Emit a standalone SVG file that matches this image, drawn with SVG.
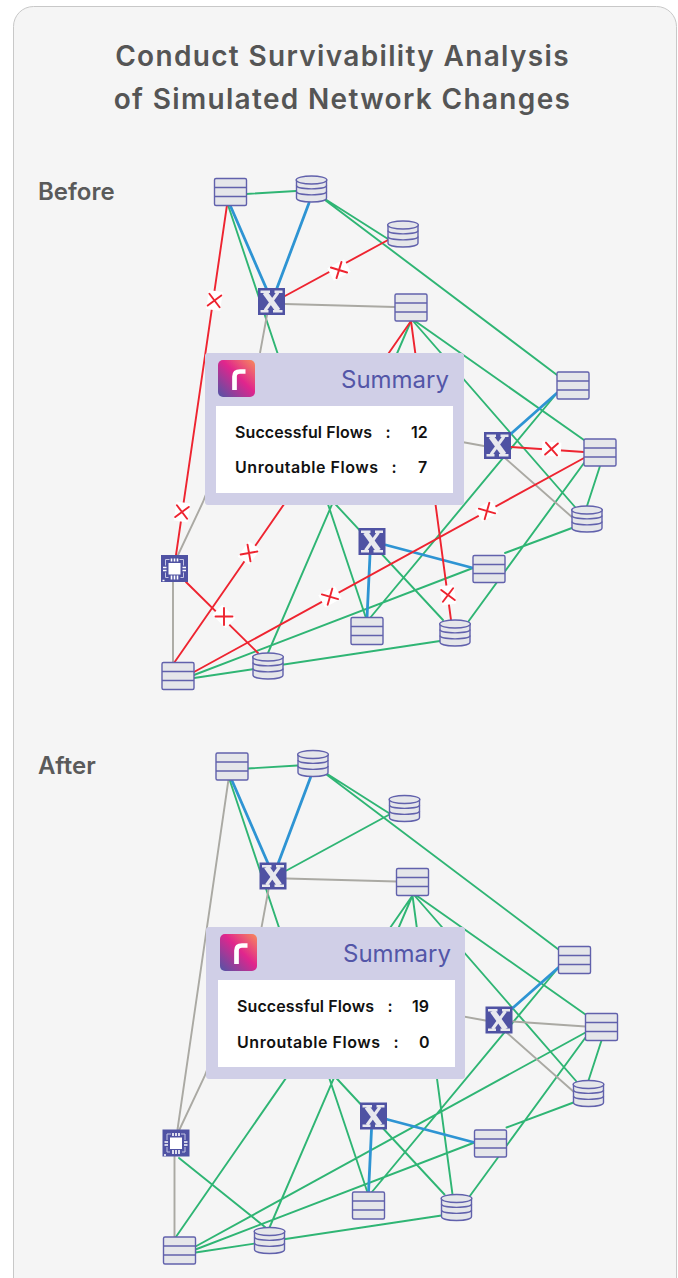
<svg xmlns="http://www.w3.org/2000/svg" width="678" height="1278" viewBox="0 0 678 1278">
<style>
text{font-family:"Inter","Lato","Liberation Sans",sans-serif}
.t{font-size:28px;font-weight:600;fill:#555;letter-spacing:1.330px}
.h{font-size:24px;font-weight:600;fill:#5a5a5a}
.s{font-size:24px;font-weight:400;fill:#5356a8;text-anchor:end}
.f{font-size:16px;font-weight:600;fill:#111}
.g,.r,.b,.a{fill:none;stroke-linecap:round}
.g{stroke:#2fb574;stroke-width:1.9}
.r{stroke:#ee2430;stroke-width:1.9}
.b{stroke:#2e94d3;stroke-width:2.800}
.a{stroke:#aaa9a3;stroke-width:1.900}
.n{fill:#e5e6ea;stroke:#6161ac;stroke-width:1.400}
</style>
<defs>
<linearGradient id="lg" x1="0" y1="1" x2="1" y2="0">
<stop offset="0" stop-color="#4f55a6"/><stop offset=".55" stop-color="#e0258d"/><stop offset="1" stop-color="#f78b5c"/>
</linearGradient>
<g id="srv"><rect class="n" x="-16" y="-13.500" width="32" height="27" rx="1.500"/><path class="n" d="M-16-4.500H16M-16 4.500H16"/></g>
<g id="db"><path class="n" d="M-15-9V9C-15 14.300 15 14.300 15 9V-9Z"/><ellipse class="n" cx="0" cy="-9" rx="15.300" ry="4"/><path class="n" d="M-15-3.500C-15 1 15 1 15-3.500M-15 2.500C-15 7 15 7 15 2.500" style="fill:none"/></g>
<g id="sw"><rect x="-13.500" y="-13.500" width="27" height="27" fill="#4f52a3"/><path fill="none" stroke="#e8e8ee" stroke-width="5.500" d="M-6.500-9L6.500 9"/><path fill="none" stroke="#e8e8ee" stroke-width="3" d="M6.500-9L-6.500 9"/><path fill="none" stroke="#e8e8ee" stroke-width="2.400" d="M-11-9.800H-1.500M3-9.800H11M-11 9.800H-3M1.500 9.800H11"/></g>
<g id="cpu"><rect x="-13.500" y="-13.500" width="27" height="27" fill="#4f52a3"/><rect x="-6" y="-5.500" width="12" height="11.500" fill="#fff"/><path fill="none" stroke="#c4c5e4" stroke-width="1" d="M-9-3V-9H-5M5-9H9V-3M-9 4V9H-6M6 9H9V4"/><path fill="none" stroke="#fff" stroke-width="1.600" d="M-3-10V-7M0-10V-7M3-10V-7M-3 7V11M0 7V11M3 7V11M-11.500-1H-8M-11.500 2H-8M8-1H11.500M8 2H11.500M-12 12H-10"/></g>
<g id="x"><rect x="-9.500" y="-7" width="19" height="14" fill="#fff"/><path class="r" d="M-6-6L6 6M-6 6L6-6"/></g>
</defs>
<rect width="678" height="1278" fill="#fff"/>
<rect x="13.500" y="6.500" width="663" height="1300" rx="20" fill="#f5f5f5" stroke="#c8c8c8" stroke-width="1"/>
<text class="t" x="342.500" y="66" text-anchor="middle">Conduct Survivability Analysis</text>
<text class="t" x="342.500" y="109" text-anchor="middle">of Simulated Network Changes</text>
<text class="h" x="38" y="200">Before</text>
<text class="h" x="38" y="774">After</text>

<g id="connectors-before">
<path class="g" d="M246 194L296 191M228 205L366 618M325 199L388 239M325 200L557 375M411 321L268 653M413 321L575 507M415 321L584 440M325 493L443 620M557 393L370 618M600 466L587 506M584 463L468 622M572 528L505 553M473 568L194 675M194 678L440 641"/>
<path class="a" d="M267 315L260 353L203 502L178 555M173 582V663M395 307L285 304M440 438L484 446M505 458L573 518"/>
<path class="b" d="M230 205L267 290M309 203L277 288M510.700 434L557 393M370 555L367 618M386 545L473 568"/>
<path class="r" d="M227 205L176 555M285 296L388 240M411 321L174 663M411 321L451 620M186 582L258 653M194 672L584 458M511 447L584 452"/>
<use href="#x" transform="translate(214.500,300.500) rotate(98)"/>
<use href="#x" transform="translate(182,512) rotate(98)"/>
<use href="#x" transform="translate(339,270) rotate(-28)"/>
<use href="#x" transform="translate(249,553) rotate(-55)"/>
<use href="#x" transform="translate(224,616.500) rotate(45)"/>
<use href="#x" transform="translate(330,596.700) rotate(-29)"/>
<use href="#x" transform="translate(487,511) rotate(-29)"/>
<use href="#x" transform="translate(551.500,449) rotate(4)"/>
<use href="#x" transform="translate(448,595) rotate(82)"/>
</g>
<g id="before-s1" transform="translate(230.500,192)"><use href="#srv"/></g>
<g id="before-d1" transform="translate(311.500,189)"><use href="#db"/></g>
<g id="before-d2" transform="translate(403,234)"><use href="#db"/></g>
<g id="before-x1" transform="translate(271.500,301.500)"><use href="#sw"/></g>
<g id="before-s2" transform="translate(411,307.500)"><use href="#srv"/></g>
<g id="before-s3" transform="translate(573,385.500)"><use href="#srv"/></g>
<g id="before-x2" transform="translate(497.500,445.500)"><use href="#sw"/></g>
<g id="before-s4" transform="translate(600,452.500)"><use href="#srv"/></g>
<g id="before-d3" transform="translate(587,519)"><use href="#db"/></g>
<g id="before-x3" transform="translate(372,541.500)"><use href="#sw"/></g>
<g id="before-s5" transform="translate(489,569)"><use href="#srv"/></g>
<g id="before-c" transform="translate(174.500,568.500)"><use href="#cpu"/></g>
<g id="before-s6" transform="translate(367,631)"><use href="#srv"/></g>
<g id="before-d4" transform="translate(455,633)"><use href="#db"/></g>
<g id="before-d5" transform="translate(268,666)"><use href="#db"/></g>
<g id="before-s7" transform="translate(178,676)"><use href="#srv"/></g>
<g id="before-summary">
<rect x="205" y="353" width="259" height="152" rx="3" fill="#d0cfe7"/>
<rect x="216" y="406" width="237" height="87" fill="#fff"/>
<rect x="218" y="360" width="37" height="37" rx="5" fill="url(#lg)"/>
<path d="M234.500 390V376.500Q234.500 371.500 240 371.500H245.500" fill="none" stroke="#fff" stroke-width="4.700"/>
<text class="s" x="449" y="388">Summary</text>
<text class="f" x="235" y="438" textLength="137">Successful Flows</text><text class="f" x="385.500" y="438">:</text><text class="f" x="411" y="438">12</text>
<text class="f" x="235" y="473" textLength="143">Unroutable Flows</text><text class="f" x="391.500" y="473">:</text><text class="f" x="418" y="473">7</text>
</g>

<g id="connectors-after" transform="translate(1.500,574.500)">
<path class="g" d="M246 194L296 191M228 205L366 618M325 199L388 239M325 200L557 375M285 296L388 240M411 321L174 663M411 321L268 653M411 321L451 620M413 321L575 507M415 321L584 440M325 493L443 620M557 393L370 618M600 466L587 506M584 463L468 622M572 528L505 553M473 568L194 675M194 678L440 641M194 672L584 458M177.500 583.500L263.500 652.500"/>
<path class="a" d="M267 315L260 353L203 502L178 555M173 582V663M395 307L285 304M440 438L484 446M505 458L573 518M227 205L176 555M511 447L584 452"/>
<path class="b" d="M230 205L267 290M309 203L277 288M510.700 434L557 393M370 555L367 618M386 545L473 568"/>
</g>
<g id="after-s1" transform="translate(232,766.500)"><use href="#srv"/></g>
<g id="after-d1" transform="translate(313,763.500)"><use href="#db"/></g>
<g id="after-d2" transform="translate(404.500,808.500)"><use href="#db"/></g>
<g id="after-x1" transform="translate(273,876)"><use href="#sw"/></g>
<g id="after-s2" transform="translate(412.500,882)"><use href="#srv"/></g>
<g id="after-s3" transform="translate(574.500,960)"><use href="#srv"/></g>
<g id="after-x2" transform="translate(499,1020)"><use href="#sw"/></g>
<g id="after-s4" transform="translate(601.500,1027)"><use href="#srv"/></g>
<g id="after-d3" transform="translate(588.500,1093.500)"><use href="#db"/></g>
<g id="after-x3" transform="translate(373.500,1116)"><use href="#sw"/></g>
<g id="after-s5" transform="translate(490.500,1143.500)"><use href="#srv"/></g>
<g id="after-c" transform="translate(176,1143)"><use href="#cpu"/></g>
<g id="after-s6" transform="translate(368.500,1205.500)"><use href="#srv"/></g>
<g id="after-d4" transform="translate(456.500,1207.500)"><use href="#db"/></g>
<g id="after-d5" transform="translate(269.500,1240.500)"><use href="#db"/></g>
<g id="after-s7" transform="translate(179.500,1250.500)"><use href="#srv"/></g>
<g id="after-summary">
<rect x="206" y="927" width="259" height="152" rx="3" fill="#d0cfe7"/>
<rect x="218" y="980" width="237" height="87" fill="#fff"/>
<rect x="220" y="934" width="37" height="37" rx="5" fill="url(#lg)"/>
<path d="M236.500 964V950.500Q236.500 945.500 242 945.500H247.500" fill="none" stroke="#fff" stroke-width="4.700"/>
<text class="s" x="451" y="962">Summary</text>
<text class="f" x="237" y="1012" textLength="137">Successful Flows</text><text class="f" x="387.500" y="1012">:</text><text class="f" x="412" y="1012">19</text>
<text class="f" x="237" y="1048" textLength="143">Unroutable Flows</text><text class="f" x="393.500" y="1048">:</text><text class="f" x="419" y="1048">0</text>
</g>
</svg>
